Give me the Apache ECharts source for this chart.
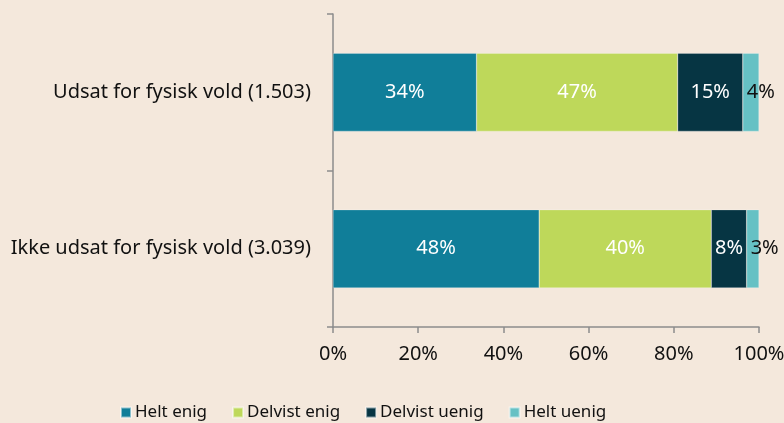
<!DOCTYPE html>
<html>
<head>
<meta charset="utf-8">
<script src="https://cdn.jsdelivr.net/npm/echarts@6/dist/echarts.min.js"></script>
<style>
  html, body { margin: 0; padding: 0; background: #f4e8dc; }
  #chart { width: 784px; height: 423px; }
</style>
</head>
<body>
<div id="chart"></div>
<script>
  // Categories (top to bottom)
  const categories = ['Udsat for fysisk vold (1.503)', 'Ikke udsat for fysisk vold (3.039)']

  // Series values (percent shares)
  const heltEnig = [33.7, 48.4]
  const delvistEnig = [47.2, 40.4]
  const delvistUenig = [15.3, 8.3]
  const heltUenig = [3.8, 2.9]

  const seriesNames = ['Helt enig', 'Delvist enig', 'Delvist uenig', 'Helt uenig']
  const seriesData = [heltEnig, delvistEnig, delvistUenig, heltUenig]
  const colors = ['#107e99', '#bed85a', '#063543', '#66c1c4']

  const fontFamily = '"Noto Sans", "Open Sans", sans-serif'

  const chart = echarts.init(document.getElementById('chart'))

  const series = seriesData.map((data, i) => {
    const last = i === seriesData.length - 1
    return {
      name: seriesNames[i],
      type: 'bar',
      stack: 'total',
      barWidth: '50%',
      data: data,
      itemStyle: { color: colors[i], borderColor: 'rgba(255,255,255,0.5)', borderWidth: 0.5 },
      label: {
        show: true,
        // small last segment: label starts inside and runs past the bar end
        position: last ? 'insideLeft' : 'inside',
        distance: 4,
        color: last ? '#111' : '#fff',
        fontFamily: fontFamily,
        fontSize: 20,
        formatter: p => Math.round(p.value) + '%'
      },
      emphasis: { disabled: true }
    }
  })

  chart.setOption({
    backgroundColor: '#f4e8dc',
    animation: false,
    grid: { left: 333, right: 25, top: 14, bottom: 96, outerBoundsMode: 'none', containLabel: false },
    xAxis: {
      type: 'value',
      min: 0,
      max: 100,
      interval: 20,
      axisLine: { show: true, lineStyle: { color: '#8c8c8c', width: 1.5 } },
      axisTick: { show: true, length: 6, lineStyle: { color: '#8c8c8c', width: 1.5 } },
      splitLine: { show: false },
      axisLabel: {
        color: '#111',
        fontFamily: fontFamily,
        fontSize: 20,
        margin: 17,
        formatter: v => v + '%'
      }
    },
    yAxis: {
      type: 'category',
      inverse: true,
      data: categories,
      axisLine: { show: true, lineStyle: { color: '#8c8c8c', width: 1.5 } },
      axisTick: { show: true, length: 6, lineStyle: { color: '#8c8c8c', width: 1.5 } },
      axisLabel: {
        color: '#111',
        fontFamily: fontFamily,
        fontSize: 20,
        margin: 22
      }
    },
    legend: {
      left: 115,
      top: 399,
      icon: 'rect',
      itemWidth: 10,
      itemHeight: 10,
      itemGap: 25,
      textStyle: { color: '#111', fontFamily: fontFamily, fontSize: 17, padding: [0, 0, 0, -1] },
      data: seriesNames
    },
    series: series
  })
</script>
</body>
</html>
